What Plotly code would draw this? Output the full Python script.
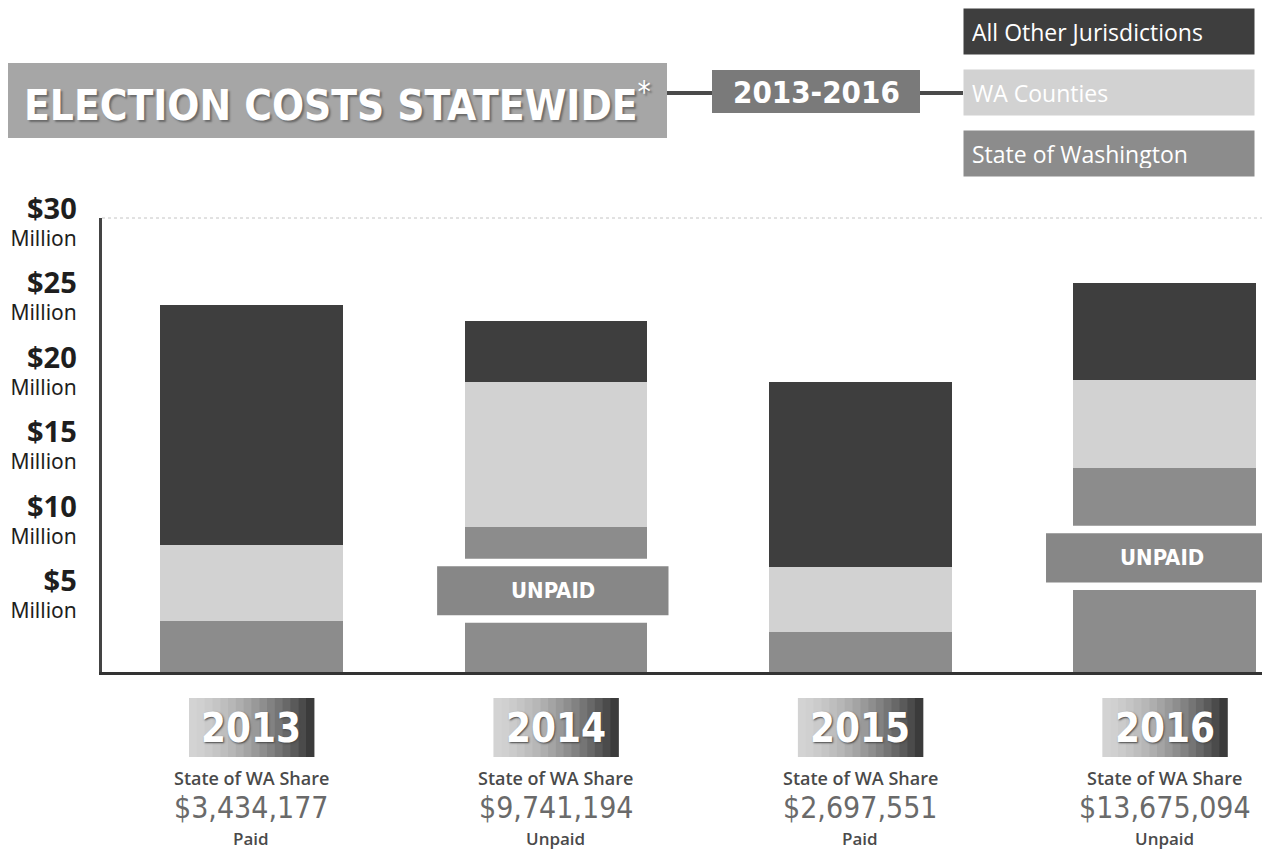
import plotly.graph_objects as go

# ---------------- data (millions of dollars) ----------------
years = ["2013", "2014", "2015", "2016"]
state_share = [3.434177, 9.741194, 2.697551, 13.675094]
wa_counties = [5.1, 9.7, 4.35, 5.9]
other_juris = [16.1, 4.1, 12.4, 6.5]
status = ["Paid", "Unpaid", "Paid", "Unpaid"]
y_ticks = [5, 10, 15, 20, 25, 30]

series_names = ["State of Washington", "WA Counties", "All Other Jurisdictions"]
legend_order = ["All Other Jurisdictions", "WA Counties", "State of Washington"]

# ---------------- styles / layout ----------------
COL = {"State of Washington": "#8c8c8c",
       "WA Counties": "#d2d2d2",
       "All Other Jurisdictions": "#3e3e3e"}
BANNER = "#878787"
OFF = 8                      # default page body margin
W, H = 1284 - OFF, 852 - OFF
L, R, T, B = 102 - OFF, 1262 - OFF, 218 - OFF, 672 - OFF
COND = "DejaVu Sans Condensed"
SANS = "Open Sans"


def px(x):
    """screen x -> paper x"""
    return (x - OFF - L) / (R - L)


def py(y):
    """screen y -> paper y"""
    return (B - (y - OFF)) / (B - T)


fig = go.Figure()
for name, vals in zip(series_names, [state_share, wa_counties, other_juris]):
    fig.add_trace(go.Bar(x=years, y=vals, name=name, width=0.6,
                         marker=dict(color=COL[name], line=dict(width=0)),
                         hovertemplate="%{x}: $%{y:.2f}M<extra>" + name + "</extra>"))

shapes = []
ann = []

# top dotted guide line
shapes.append(dict(type="line", xref="paper", yref="paper", x0=0, x1=1, y0=1, y1=1,
                   line=dict(color="#c4c4c4", width=1, dash="dot")))

# UNPAID banners over the state share segment
for i, (v, s) in enumerate(zip(state_share, status)):
    if s != "Unpaid":
        continue
    c = 0.56 * v
    shapes.append(dict(type="rect", xref="x", yref="y", x0=i - 0.40, x1=i + 0.38,
                       y0=c - 2.15, y1=c + 2.15, fillcolor="white", line=dict(width=0)))
    shapes.append(dict(type="rect", xref="x", yref="y", x0=i - 0.39, x1=i + 0.37,
                       y0=c - 1.65, y1=c + 1.65, fillcolor=BANNER, line=dict(width=0)))
    ann.append(dict(x=i - 0.01, y=c, xref="x", yref="y", text="<b>UNPAID</b>", showarrow=False,
                    xanchor="center", yanchor="middle",
                    font=dict(family=COND, size=22, color="white")))

# year boxes with gradient + texts under each bar
n = 16
for i, (yr, v, s) in enumerate(zip(years, state_share, status)):
    x0 = i - 0.205
    step = 0.41 / n
    for k in range(n):
        t = (k + 0.5) / n
        g = int(212 - (212 - 52) * t ** 1.6)
        shapes.append(dict(type="rect", xref="x", yref="paper",
                           x0=x0 + k * step, x1=x0 + (k + 1) * step + 0.002,
                           y0=py(757), y1=py(698), fillcolor=f"rgb({g},{g},{g})",
                           line=dict(width=0)))
    common = dict(x=i, xref="x", yref="paper", showarrow=False,
                  xanchor="center", yanchor="middle")
    ann.append(dict(common, y=py(728), text=f"<b>{yr}</b>",
                    font=dict(family=COND, size=40, color="white", shadow="1px 1px 2px #444")))
    ann.append(dict(common, y=py(778), text="State of WA Share",
                    font=dict(family=SANS, size=18, color="#4a4a4a", weight=600)))
    ann.append(dict(common, y=py(807), text=f"${v * 1e6:,.0f}",
                    font=dict(family=COND, size=30, color="#6a6a6a")))
    ann.append(dict(common, y=py(838), text=s,
                    font=dict(family=SANS, size=17, color="#4a4a4a", weight=600)))

# header: title box, connectors, period box
shapes.append(dict(type="rect", xref="paper", yref="paper", x0=px(5), x1=px(667),
                   y0=py(138), y1=py(63), fillcolor="#a6a6a6", line=dict(width=0)))
shapes.append(dict(type="line", xref="paper", yref="paper", x0=px(667), x1=px(712),
                   y0=py(93), y1=py(93), line=dict(color="#4a4a4a", width=4)))
shapes.append(dict(type="rect", xref="paper", yref="paper", x0=px(712), x1=px(920),
                   y0=py(113), y1=py(70), fillcolor="#7a7a7a", line=dict(width=0)))
shapes.append(dict(type="line", xref="paper", yref="paper", x0=px(920), x1=px(963),
                   y0=py(93), y1=py(93), line=dict(color="#4a4a4a", width=4)))
ann.append(dict(x=px(22), y=py(102), xref="paper", yref="paper", xanchor="left",
                yanchor="middle",
                text="<b>ELECTION COSTS STATEWIDE</b><sup>*</sup>", showarrow=False,
                font=dict(family=COND, size=42, color="white", shadow="2px 2px 2px #6a6a6a")))
ann.append(dict(x=px(816), y=py(92), xref="paper", yref="paper", xanchor="center",
                yanchor="middle", text="<b>2013-2016</b>", showarrow=False,
                font=dict(family=COND, size=31, color="white")))

# legend boxes
for name, yc in zip(legend_order, [31, 93, 153]):
    ann.append(dict(x=px(963), y=py(yc), xref="paper", yref="paper", xanchor="left",
                    yanchor="middle", text=name, showarrow=False, align="left",
                    width=274, height=29, borderpad=8, bgcolor=COL[name],
                    font=dict(family=SANS, size=23, color="white")))

tick_text = [f"<span style='font-size:29px'><b>${v}</b></span><br>Million" for v in y_ticks]

fig.update_layout(
    width=W, height=H,
    margin=dict(l=L, r=W - R, t=T, b=H - B, autoexpand=False),
    paper_bgcolor="white", plot_bgcolor="white",
    barmode="stack", showlegend=False,
    shapes=shapes, annotations=ann,
    xaxis=dict(type="category", range=[-0.4907, 3.3194], showticklabels=False,
               ticks="", showgrid=False, zeroline=False, showline=True, automargin=False,
               linecolor="#333333", linewidth=3),
    yaxis=dict(range=[0, (B - T) / 14.9], tickvals=y_ticks, ticktext=tick_text,
               ticks="", showgrid=False, zeroline=False, showline=True, automargin=False,
               linecolor="#444444", linewidth=3, ticklabelstandoff=18,
               tickfont=dict(family="Noto Sans", size=21, color="#1e1e1e")),
)

fig.write_html("out.html")
